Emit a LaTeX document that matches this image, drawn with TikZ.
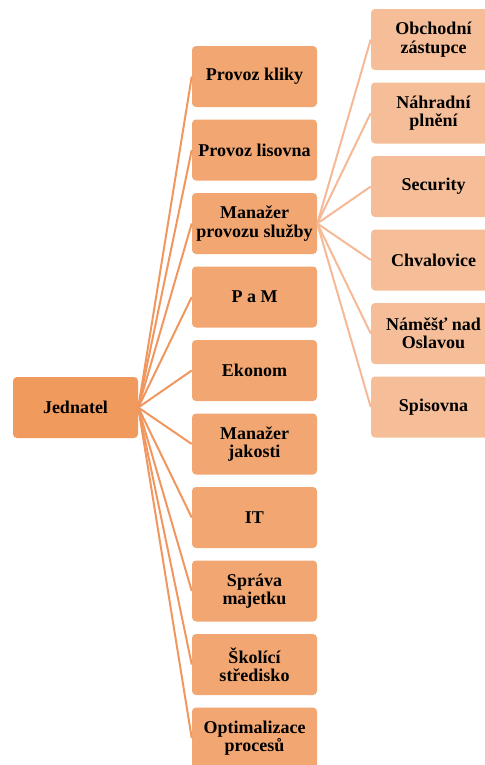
\documentclass[tikz,border=0pt]{standalone}
\usepackage{fontspec}
\setmainfont{Liberation Serif}
\usepackage{tikz}

\definecolor{jedfill}{HTML}{F09A5E}
\definecolor{onefill}{HTML}{F2A671}
\definecolor{twofill}{HTML}{F6BE98}
\definecolor{oneline}{HTML}{F0975F}
\definecolor{twoline}{HTML}{F5B996}

\begin{document}
\begin{tikzpicture}[x=0.75pt,y=-0.75pt,
    box/.style={rectangle,rounded corners=3pt,minimum width=93.75pt,minimum height=45.75pt,
        inner sep=1pt,align=center,font=\bfseries\fontsize{13.5}{13.8}\selectfont},
    jedbox/.style={box,fill=jedfill},
    onebox/.style={box,fill=onefill},
    twobox/.style={box,fill=twofill},
    oneconn/.style={draw=oneline,line width=1.5pt},
    twoconn/.style={draw=twoline,line width=1.5pt}]
            \useasboundingbox (0,0) rectangle (485,765);

            \node[jedbox] (j) at (75.5, 407.5) {Jednatel};

            \node[onebox] (k) at (254.5, 76.5) {Provoz kliky};
            \node[onebox] (l) at (254.5, 150) {Provoz lisovna};
            \node[onebox] (m) at (254.5, 223.5) {Manažer\\provozu služby};
            \node[onebox] (pm) at (254.5, 297) {P a M};
            \node[onebox] (e) at (254.5, 370.5) {Ekonom};
            \node[onebox] (mj) at (254.5, 444) {Manažer\\jakosti};
            \node[onebox] (it) at (254.5, 517.5) {IT};
            \node[onebox] (sm) at (254.5, 591) {Správa\\majetku};
            \node[onebox] (ss) at (254.5, 664.5) {Školící\\středisko};
            \node[onebox] (op) at (254.5, 738) {Optimalizace\\procesů};

            \node[twobox] (oz) at (433.5, 39.5) {Obchodní\\zástupce};
            \node[twobox] (np) at (433.5, 113) {Náhradní\\plnění};
            \node[twobox] (se) at (433.5, 186.5) {Security};
            \node[twobox] (ch) at (433.5, 260) {Chvalovice};
            \node[twobox] (nn) at (433.5, 333.5) {Náměšť nad\\Oslavou};
            \node[twobox] (sp) at (433.5, 407) {Spisovna};

            \draw[oneconn] (j.east) edge (k.west)
            (j.east) edge (l.west)
            (j.east) edge (m.west)
            (j.east) edge (pm.west)
            (j.east) edge (e.west)
            (j.east) edge (mj.west)
            (j.east) edge (it.west)
            (j.east) edge (sm.west)
            (j.east) edge (ss.west)
            (j.east) edge (op.west);

            \draw[twoconn] (m.east) edge (oz.west)
            (m.east) edge (np.west)
            (m.east) edge (se.west)
            (m.east) edge (ch.west)
            (m.east) edge (nn.west)
            (m.east) edge (sp.west);
        \end{tikzpicture}
\end{document}
